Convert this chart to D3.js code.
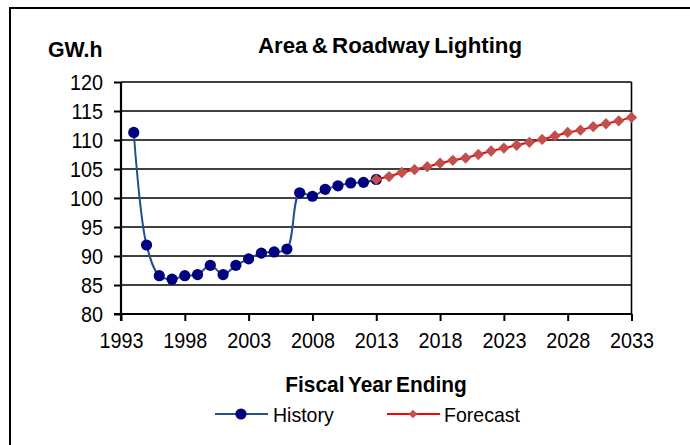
<!DOCTYPE html>
<html><head><meta charset="utf-8">
<script src="https://cdn.jsdelivr.net/npm/d3@7"></script>
<style>
html,body{margin:0;padding:0;background:#fff;}
svg{display:block;font-family:"Liberation Sans",Arial,sans-serif;}
</style></head>
<body>
<svg id="chart" width="690" height="445"></svg>
<script>
const historyYears = [1994,1995,1996,1997,1998,1999,2000,2001,2002,2003,2004,2005,2006,2007,2008,2009,2010,2011,2012,2013];
const historyValues = [111.3,91.9,86.6,86.0,86.6,86.8,88.4,86.8,88.4,89.5,90.5,90.7,91.2,100.9,100.3,101.5,102.1,102.6,102.7,103.2];
const forecastYears = [2013,2014,2015,2016,2017,2018,2019,2020,2021,2022,2023,2024,2025,2026,2027,2028,2029,2030,2031,2032,2033];
const forecastValues = [103.2,103.7,104.4,104.9,105.4,106.0,106.5,106.9,107.5,108.1,108.6,109.1,109.6,110.1,110.7,111.3,111.7,112.3,112.8,113.3,113.9];
const xTicks = [1993,1998,2003,2008,2013,2018,2023,2028,2033];
const yTicks = [80,85,90,95,100,105,110,115,120];

const svg = d3.select("#chart");
// outer border
svg.append("rect").attr("x",10).attr("y",8).attr("width",700).attr("height",500)
  .attr("fill","none").attr("stroke","#000").attr("stroke-width",2);

const L=121, R=631.5, T=82, B=314;
const x = d3.scaleLinear().domain([1993,2033]).range([L,R]);
const y = d3.scaleLinear().domain([80,120]).range([B,T]);

// gridlines
svg.append("g").selectAll("line").data(yTicks.filter(d=>d>80)).join("line")
  .attr("x1",L).attr("x2",R).attr("y1",d=>y(d)).attr("y2",d=>y(d))
  .attr("stroke","#000").attr("stroke-width",1.6);
// right border of plot
svg.append("line").attr("x1",R).attr("x2",R).attr("y1",T).attr("y2",B)
  .attr("stroke","#000").attr("stroke-width",1.6);

// axes
const yAxis = svg.append("g").attr("transform",`translate(${L},0)`)
  .call(d3.axisLeft(y).tickValues(yTicks).tickSize(7).tickPadding(13).tickFormat(d3.format("d")));
const xAxis = svg.append("g").attr("transform",`translate(0,${B})`)
  .call(d3.axisBottom(x).tickValues(xTicks).tickSize(7).tickPadding(11).tickFormat(d3.format("d")));
[yAxis,xAxis].forEach(a=>{
  a.select(".domain").attr("stroke","#000").attr("stroke-width",2.2);
  a.selectAll(".tick line").attr("stroke","#000").attr("stroke-width",2);
  a.selectAll(".tick text").attr("fill","#000").style("font-size","22px")
    .style("font-family","'Liberation Sans',Arial,sans-serif")
    .attr("transform","scale(0.9,1)");
});
yAxis.selectAll(".tick text").attr("dy","0.36em");
yAxis.select(".domain").attr("d",`M0,${B+7}V${T}`);
xAxis.select(".domain").attr("d",`M${L-7},0H${R}`);

// History line (smoothed like the source)
const hist = historyYears.map((yr,i)=>[yr,historyValues[i]]);
const fc = forecastYears.map((yr,i)=>[yr,forecastValues[i]]);
const smooth = d3.line().x(d=>x(d[0])).y(d=>y(d[1])).curve(d3.curveCatmullRom.alpha(0.5));
const straight = d3.line().x(d=>x(d[0])).y(d=>y(d[1]));
svg.append("path").datum(hist).attr("d",smooth).attr("fill","none")
  .attr("stroke","#24508E").attr("stroke-width",2);
svg.append("g").selectAll("circle").data(hist).join("circle")
  .attr("cx",d=>x(d[0])).attr("cy",d=>y(d[1])).attr("r",5.6).attr("fill","#000080");
// Forecast
svg.append("path").datum(fc).attr("d",straight).attr("fill","none")
  .attr("stroke","#FF0000").attr("stroke-width",2);
svg.append("g").selectAll("path").data(fc).join("path")
  .attr("d",d3.symbol().type(d3.symbolSquare).size(64)())
  .attr("transform",d=>`translate(${x(d[0])},${y(d[1])}) rotate(45)`)
  .attr("fill","#C0504D");

function label(tx,ty,txt,size,bold,sx,anchor){
  svg.append("text").attr("transform",`translate(${tx},${ty}) scale(${sx},1)`)
    .attr("text-anchor",anchor||"start")
    .style("font-size",size+"px").style("font-weight",bold?"bold":"normal")
    .attr("word-spacing", bold ? "-2px" : "0")
    .text(txt);
}
// Titles
label(390,53,"Area & Roadway Lighting",23,true,0.97,"middle");
label(48,57,"GW.h",22,true,0.97,"start");
label(376,392,"Fiscal Year Ending",22,true,0.95,"middle");

// Legend
const lg = svg.append("g");
lg.append("line").attr("x1",215).attr("x2",268).attr("y1",414).attr("y2",414)
  .attr("stroke","#24508E").attr("stroke-width",2);
lg.append("circle").attr("cx",241).attr("cy",414).attr("r",5.6).attr("fill","#000080");
lg.append("line").attr("x1",387).attr("x2",440).attr("y1",414).attr("y2",414)
  .attr("stroke","#FF0000").attr("stroke-width",2);
lg.append("path").attr("d",d3.symbol().type(d3.symbolSquare).size(36)())
  .attr("transform","translate(413,414) rotate(45)").attr("fill","#C0504D");
label(273,422,"History",21,false,0.93,"start");
label(444,422,"Forecast",21,false,0.93,"start");
</script>
</body></html>
